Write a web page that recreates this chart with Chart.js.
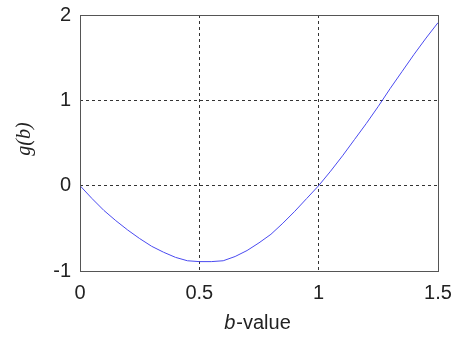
<!DOCTYPE html>
<html>
<head>
<meta charset="utf-8">
<script src="https://cdn.jsdelivr.net/npm/chart.js@4.4.0/dist/chart.umd.min.js"></script>
<style>
  html, body { margin: 0; padding: 0; background: #fff; }
  #wrap { width: 454px; height: 337px; }
</style>
</head>
<body>
<div id="wrap"><canvas id="myChart" width="454" height="337"></canvas></div>
<script>
// values
const bValues = [0, 0.05, 0.1, 0.15, 0.2, 0.25, 0.3, 0.35, 0.4, 0.45, 0.5, 0.55, 0.6, 0.65, 0.7, 0.75,
                 0.8, 0.85, 0.9, 0.95, 1.0, 1.05, 1.1, 1.15, 1.2, 1.25, 1.3, 1.35, 1.4, 1.45, 1.5];
const gValues = [0, -0.15, -0.29, -0.41, -0.52, -0.62, -0.71, -0.78, -0.84, -0.88, -0.89, -0.89, -0.88, -0.83, -0.76, -0.67,
                 -0.57, -0.44, -0.30, -0.15, 0, 0.17, 0.35, 0.54, 0.73, 0.93, 1.14, 1.34, 1.54, 1.73, 1.91];
const xTicks = [0, 0.5, 1, 1.5];
const yTicks = [-1, 0, 1, 2];
const xTitleItalic = "b";
const xTitleRest = "-value";
const yTitle = "g(b)";

const points = bValues.map((b, i) => ({ x: b, y: gValues[i] }));

function innerOnly(ticks) {
  return function(ctx) {
    const v = ctx.tick ? ctx.tick.value : null;
    if (v === ticks[0] || v === ticks[ticks.length - 1]) return 'rgba(0,0,0,0)';
    return '#333333';
  };
}

const framePlugin = {
  id: 'frame',
  afterDraw(chart) {
    const c = chart.ctx, a = chart.chartArea;
    c.save();
    c.strokeStyle = '#555555';
    c.lineWidth = 1;
    c.strokeRect(Math.round(a.left) + 0.5, Math.round(a.top) + 0.5,
                 Math.round(a.right - a.left), Math.round(a.bottom - a.top));
    // axis titles
    c.fillStyle = '#222222';
    c.textBaseline = 'middle';
    c.font = 'italic 20px "Liberation Sans"';
    const w1 = c.measureText(xTitleItalic).width;
    c.font = '20px "Liberation Sans"';
    const w2 = c.measureText(xTitleRest).width;
    let x0 = 257 - (w1 + w2) / 2;
    c.textAlign = 'left';
    c.font = 'italic 20px "Liberation Sans"';
    c.fillText(xTitleItalic, x0, 323);
    c.font = '20px "Liberation Sans"';
    c.fillText(xTitleRest, x0 + w1 + 1, 323);
    c.translate(25, 139);
    c.rotate(-Math.PI / 2);
    c.textAlign = 'center';
    c.font = 'italic 20px "Liberation Serif"';
    c.fillText(yTitle, 0, 0);
    c.restore();
  }
};

new Chart('myChart', {
  type: 'scatter',
  data: {
    datasets: [{
      data: points,
      showLine: true,
      borderColor: '#4a4af0',
      borderWidth: 1,
      pointRadius: 0,
      tension: 0,
      fill: false
    }]
  },
  options: {
    responsive: false,
    animation: false,
    layout: { padding: { left: 0, right: 16, top: 15, bottom: 0 } },
    plugins: { legend: { display: false }, tooltip: { enabled: false } },
    scales: {
      x: {
        type: 'linear',
        min: 0, max: 1.5,
        afterBuildTicks: s => { s.ticks = xTicks.map(v => ({ value: v })); },
        afterFit: s => { s.height = 66; s.paddingLeft = 0; s.paddingRight = 0; },
        border: { display: false, dash: [3, 3] },
        grid: { color: innerOnly(xTicks), drawTicks: false, lineWidth: 1 },
        ticks: { color: '#222222', padding: 10, font: { family: 'Liberation Sans', size: 20 },
                 callback: v => String(v) }
      },
      y: {
        type: 'linear',
        min: -1, max: 2,
        afterBuildTicks: s => { s.ticks = yTicks.map(v => ({ value: v })); },
        afterFit: s => { s.width = 80; s.paddingTop = 0; s.paddingBottom = 0; },
        border: { display: false, dash: [3, 3] },
        grid: { color: innerOnly(yTicks), drawTicks: false, lineWidth: 1 },
        ticks: { color: '#222222', padding: 9, font: { family: 'Liberation Sans', size: 20 },
                 callback: v => String(v) }
      }
    }
  },
  plugins: [framePlugin]
});
</script>
</body>
</html>
